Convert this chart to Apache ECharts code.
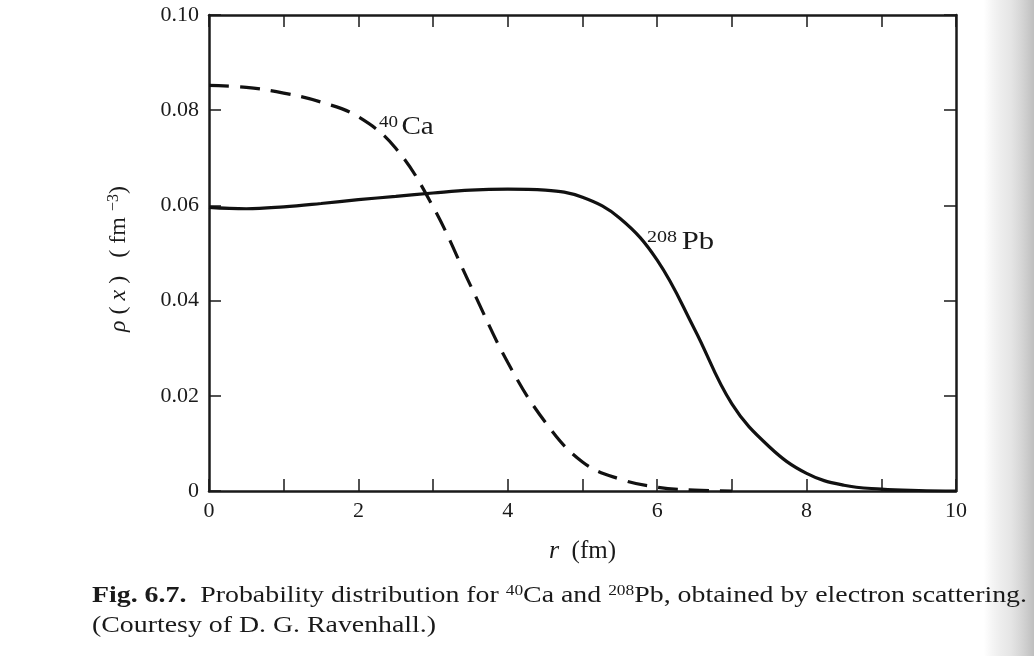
<!DOCTYPE html>
<html>
<head>
<meta charset="utf-8">
<title>Fig. 6.7</title>
<script src="https://cdn.jsdelivr.net/npm/echarts@6/dist/echarts.min.js"></script>
<style>
  html, body { margin: 0; padding: 0; background: #ffffff; }
  #chart { width: 1034px; height: 656px; }
</style>
</head>
<body>
<div id="chart"></div>
<script>
// DATA
var rPb = [0, 0.5, 1, 1.5, 2, 2.5, 3, 3.5, 4, 4.5, 5, 5.5, 6, 6.5, 7, 7.5, 8, 8.5, 9, 9.5, 10];
var rhoPb = [0.0596, 0.0593, 0.0597, 0.0604, 0.0612, 0.0619, 0.0626, 0.0632, 0.0634, 0.0632, 0.0617, 0.0573, 0.0485, 0.0340, 0.0183, 0.0093, 0.0037, 0.0012, 0.0004, 0.0001, 0];
var rCa = [0, 0.5, 1, 1.5, 2, 2.5, 3, 3.5, 4, 4.5, 5, 5.5, 6, 6.5, 7];
var rhoCa = [0.0852, 0.0848, 0.0836, 0.0817, 0.0786, 0.0720, 0.0597, 0.0432, 0.0270, 0.0145, 0.0061, 0.0025, 0.0008, 0.0002, 0];
var xTicks = [0, 2, 4, 6, 8, 10];
var yTicks = [0, 0.02, 0.04, 0.06, 0.08, 0.10];

var SERIF = '"Liberation Serif", "DejaVu Serif", serif';
var INK = '#1a1a1a';

function pairs(xs, ys) {
    var out = [];
    for (var i = 0; i < xs.length; i++) out.push([xs[i], ys[i]]);
    return out;
}

var myChart = echarts.init(document.getElementById('chart'));

var frameLine = { show: true, onZero: false, lineStyle: { color: INK, width: 2.5 } };
var frameTick = { show: true, inside: true, length: 12, lineStyle: { color: INK, width: 1.5 } };

var option = {
    backgroundColor: '#ffffff',
    animation: false,
    grid: { left: 209, right: 78, top: 15, bottom: 165, containLabel: false },
    xAxis: [{
        type: 'value', position: 'bottom', min: 0, max: 10, interval: 1,
        axisLine: frameLine,
        axisTick: frameTick,
        splitLine: { show: false },
        axisLabel: {
            color: INK, fontFamily: SERIF, fontSize: 22, margin: 9,
            formatter: function (v) { return xTicks.indexOf(v) >= 0 ? String(v) : ''; }
        },
        name: '{i|r}  (fm)', nameLocation: 'middle', nameGap: 47,
        nameTextStyle: {
            color: INK, fontFamily: SERIF, fontSize: 25,
            rich: { i: { fontStyle: 'italic', fontFamily: SERIF, fontSize: 26, color: INK } }
        }
    }, {
        type: 'value', position: 'top', min: 0, max: 10, interval: 1,
        axisLine: frameLine,
        axisTick: frameTick,
        axisLabel: { show: false }, splitLine: { show: false }
    }],
    yAxis: [{
        type: 'value', position: 'left', min: 0, max: 0.1, interval: 0.02,
        axisLine: frameLine,
        axisTick: frameTick,
        splitLine: { show: false },
        axisLabel: {
            color: INK, fontFamily: SERIF, fontSize: 22, margin: 10,
            formatter: function (v) {
                var k = Math.round(v * 100) / 100;
                return yTicks.indexOf(k) >= 0 ? (k === 0 ? '0' : k.toFixed(2)) : '';
            }
        },
        name: '{i|ρ} ( {i|x} )   ( fm {s|−3})', nameLocation: 'middle', nameGap: 77, nameRotate: 90,
        nameTextStyle: {
            color: INK, fontFamily: SERIF, fontSize: 24, padding: [0, 12, 0, 0],
            rich: {
                i: { fontStyle: 'italic', fontFamily: SERIF, fontSize: 24, color: INK },
                s: { fontFamily: SERIF, fontSize: 16, color: INK, verticalAlign: 'top', padding: [0, 0, 10, 0] }
            }
        }
    }, {
        type: 'value', position: 'right', min: 0, max: 0.1, interval: 0.02,
        axisLine: frameLine,
        axisTick: frameTick,
        axisLabel: { show: false }, splitLine: { show: false }
    }],
    series: [{
        name: '208Pb', type: 'line', xAxisIndex: 0, yAxisIndex: 0,
        data: pairs(rPb, rhoPb), smooth: 0.4, showSymbol: false,
        lineStyle: { color: '#111', width: 3.2 }
    }, {
        name: '40Ca', type: 'line', xAxisIndex: 0, yAxisIndex: 0,
        data: pairs(rCa, rhoCa), smooth: 0.4, showSymbol: false,
        lineStyle: { color: '#111', width: 3.2, type: [20, 11] }
    }],
    graphic: [{
        // binding shadow on the right edge of the scan
        type: 'rect', right: 0, top: 0, z: -10,
        shape: { width: 50, height: 656 },
        style: {
            fill: new echarts.graphic.LinearGradient(0, 0, 1, 0, [
                { offset: 0, color: 'rgba(200,200,200,0)' },
                { offset: 0.5, color: 'rgba(215,215,215,0.6)' },
                { offset: 1, color: 'rgba(190,190,190,1)' }
            ])
        }
    }, {
        type: 'text', left: 379, top: 114, scaleX: 1.12,
        style: {
            text: '{s|40}Ca', fill: INK, font: '26px ' + SERIF,
            rich: { s: { fontSize: 17, fontFamily: SERIF, fill: INK, verticalAlign: 'top', padding: [0, 3, 10, 0] } }
        }
    }, {
        type: 'text', left: 647, top: 229, scaleX: 1.18,
        style: {
            text: '{s|208}Pb', fill: INK, font: '26px ' + SERIF,
            rich: { s: { fontSize: 17, fontFamily: SERIF, fill: INK, verticalAlign: 'top', padding: [0, 4, 10, 0] } }
        }
    }, {
        type: 'text', left: 92, top: 584, scaleX: 1.16,
        style: {
            text: '{b|Fig. 6.7.}  Probability distribution for {s|40}Ca and {s|208}Pb, obtained by electron scattering.',
            fill: INK, font: '24px ' + SERIF,
            rich: {
                b: { fontWeight: 'bold', fontSize: 24, fontFamily: SERIF, fill: INK },
                s: { fontSize: 15, fontFamily: SERIF, fill: INK, verticalAlign: 'top', padding: [0, 0, 9, 0] }
            }
        }
    }, {
        type: 'text', left: 92, top: 614, scaleX: 1.16,
        style: { text: '(Courtesy of D. G. Ravenhall.)', fill: INK, font: '24px ' + SERIF }
    }]
};

myChart.setOption(option);
</script>
</body>
</html>
